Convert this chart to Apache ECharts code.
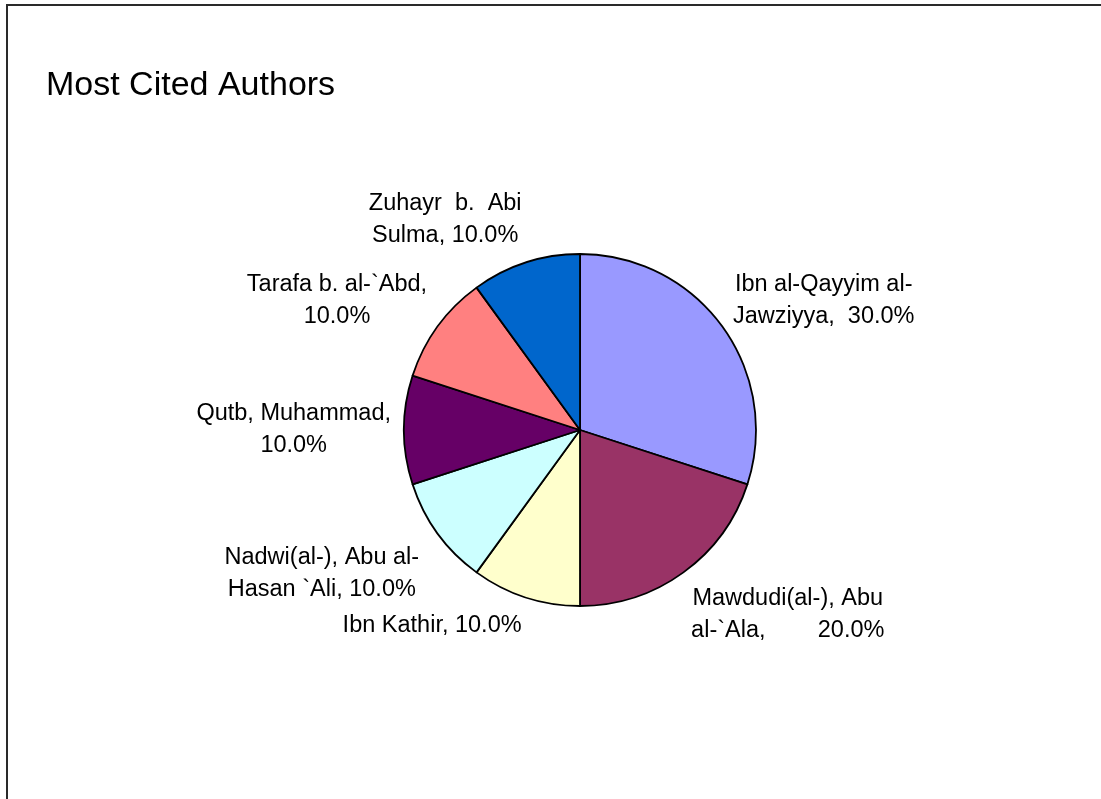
<!DOCTYPE html>
<html>
<head>
<meta charset="utf-8">
<title>Most Cited Authors</title>
<script src="https://cdn.jsdelivr.net/npm/echarts@6/dist/echarts.min.js"></script>
<style>
  html, body { margin: 0; padding: 0; background: #ffffff; }
  #chart { width: 1101px; height: 799px; }
</style>
</head>
<body>
<div id="chart"></div>
<script>
// Authors, in drawing order (clockwise from twelve o'clock)
const categories = [
  "Ibn al-Qayyim al-Jawziyya",
  "Mawdudi(al-), Abu al-`Ala",
  "Ibn Kathir",
  "Nadwi(al-), Abu al-Hasan `Ali",
  "Qutb, Muhammad",
  "Tarafa b. al-`Abd",
  "Zuhayr b. Abi Sulma"
];
// Number of citations per author
const citations = [3, 2, 1, 1, 1, 1, 1];
// Wrapped name text shown in each label (percentage is appended)
const labelNames = [
  "Ibn al-Qayyim al-\nJawziyya,  ",
  "Mawdudi(al-), Abu\nal-`Ala,        ",
  "Ibn Kathir, ",
  "Nadwi(al-), Abu al-\nHasan `Ali, ",
  "Qutb, Muhammad,\n",
  "Tarafa b. al-`Abd,\n",
  "Zuhayr  b.  Abi\nSulma, "
];
const sliceColors = ["#9999FF", "#993366", "#FFFFCC", "#CCFFFF", "#660066", "#FF8080", "#0066CC"];

const FONT = "'Liberation Sans', Arial, sans-serif";
const CX = 580, CY = 430, R = 176, GAP = 13;

const total = citations.reduce((a, b) => a + b, 0);
// mid angle of each slice (radians, counter-clockwise from 3 o'clock)
const midAngles = [];
(function () {
  let acc = 0;
  citations.forEach(v => {
    const startDeg = 90 - acc / total * 360;
    const endDeg = 90 - (acc + v) / total * 360;
    midAngles.push((startDeg + endDeg) / 2 * Math.PI / 180);
    acc += v;
  });
})();

const chart = echarts.init(document.getElementById('chart'), null, { renderer: 'canvas' });

chart.setOption({
  backgroundColor: '#ffffff',
  animation: false,
  graphic: [{
    type: 'rect',
    shape: { x: 7, y: 5, width: 1300, height: 1000 },
    style: { fill: 'none', stroke: '#2a2a2a', lineWidth: 2 },
    silent: true
  }],
  title: {
    text: 'Most Cited Authors',
    left: 41,
    top: 64,
    textStyle: { fontFamily: FONT, fontSize: 34, fontWeight: 'normal', color: '#000000' }
  },
  series: [{
    type: 'pie',
    center: [CX, CY],
    radius: R,
    startAngle: 90,
    clockwise: true,
    minAngle: 0,
    avoidLabelOverlap: false,
    data: categories.map((name, i) => ({
      name: name,
      value: citations[i],
      itemStyle: { color: sliceColors[i] }
    })),
    itemStyle: { borderColor: '#000000', borderWidth: 1.8 },
    emphasis: { disabled: true },
    label: {
      show: true,
      position: 'outside',
      fontFamily: FONT,
      fontSize: 23.5,
      lineHeight: 32,
      color: '#000000',
      formatter: p => labelNames[p.dataIndex] + (p.value / total * 100).toFixed(1) + '%'
    },
    labelLine: { show: false },
    // Place each label just outside the rim, along its slice's mid angle
    labelLayout: function (params) {
      const a = midAngles[params.dataIndex];
      const c = Math.cos(a), s = Math.sin(a);
      const ax = CX + (R + GAP) * c;
      const ay = CY - (R + GAP) * s;
      const w = params.labelRect.width, h = params.labelRect.height;
      let x = ax, y = ay;
      if (c > 0.15) x = ax + w / 2;
      else if (c < -0.15) x = ax - w / 2 - (c < -0.6 && s < -0.2 ? 8 : 0);
      if (s > 0) y = ay - h / 2 * s; else if (s < -0.2) y = ay + h / 2;
      return { x: x, y: y, align: 'center', verticalAlign: 'middle' };
    }
  }]
});
</script>
</body>
</html>
